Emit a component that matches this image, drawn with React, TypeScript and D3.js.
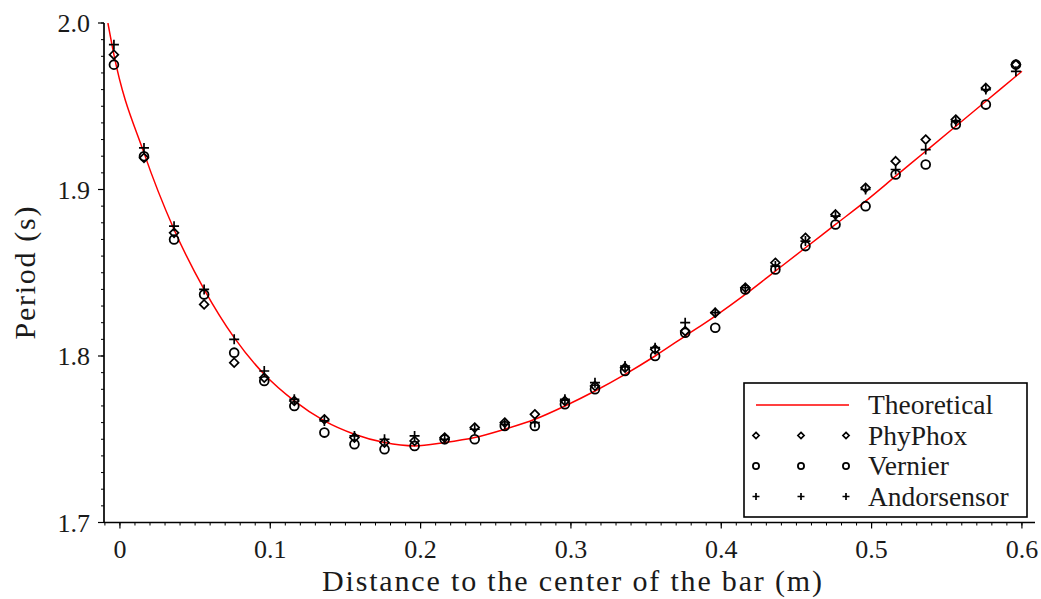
import * as React from 'react';
import * as d3 from 'd3';

// distance of the pivot to the centre of the bar (m)
const distances = [
  -0.004, 0.016, 0.036, 0.056, 0.076, 0.096, 0.116, 0.136, 0.156, 0.176, 0.196,
  0.216, 0.236, 0.256, 0.276, 0.296, 0.316, 0.336, 0.356, 0.376, 0.396,
  0.416, 0.436, 0.456, 0.476, 0.496, 0.516, 0.536, 0.556, 0.576, 0.596,
];

// measured periods (s)
const phyphox = [
  1.981, 1.919, 1.874, 1.831, 1.796, 1.787, 1.773, 1.762, 1.751, 1.748, 1.749,
  1.751, 1.757, 1.760, 1.765, 1.773, 1.782, 1.793, 1.804, 1.815, 1.826,
  1.841, 1.856, 1.871, 1.885, 1.901, 1.917, 1.930, 1.942, 1.961, 1.975,
];
const vernier = [
  1.975, 1.920, 1.870, 1.837, 1.802, 1.785, 1.770, 1.754, 1.747, 1.744, 1.746,
  1.750, 1.750, 1.758, 1.758, 1.771, 1.780, 1.791, 1.800, 1.814, 1.817,
  1.840, 1.852, 1.866, 1.879, 1.890, 1.909, 1.915, 1.939, 1.951, 1.975,
];
const andorsensor = [
  1.987, 1.925, 1.878, 1.840, 1.810, 1.791, 1.774, 1.761, 1.752, 1.750, 1.752,
  1.750, 1.756, 1.759, 1.760, 1.774, 1.784, 1.794, 1.805, 1.820, 1.826,
  1.841, 1.854, 1.869, 1.884, 1.900, 1.912, 1.924, 1.941, 1.960, 1.971,
];

// theoretical curve
const theoryX = [
  -0.008, -0.004, 0.016, 0.036, 0.056, 0.076, 0.096, 0.116, 0.136, 0.156, 0.176, 0.196,
  0.216, 0.236, 0.256, 0.276, 0.296, 0.316, 0.336, 0.356, 0.376, 0.396,
  0.416, 0.436, 0.456, 0.476, 0.496, 0.516, 0.536, 0.556, 0.576, 0.596, 0.600,
];
const theoryT = [
  2.000, 1.981, 1.922, 1.876, 1.840, 1.811, 1.789, 1.773, 1.761, 1.753, 1.748, 1.746,
  1.748, 1.751, 1.756, 1.762, 1.770, 1.779, 1.789, 1.800, 1.812, 1.824,
  1.837, 1.851, 1.865, 1.879, 1.893, 1.908, 1.923, 1.938, 1.953, 1.968, 1.971,
];

const xTicks = [0, 0.1, 0.2, 0.3, 0.4, 0.5, 0.6];
const yTicks = [1.7, 1.8, 1.9, 2.0];
const legendLabels = ['Theoretical', 'PhyPhox', 'Vernier', 'Andorsensor'];

const textStyle = { fontFamily: "'Liberation Serif'" };
const INK = '#1a1a1a';

function diamond(cx: number, cy: number, r: number) {
  return `M${cx},${cy - r}L${cx + r},${cy}L${cx},${cy + r}L${cx - r},${cy}Z`;
}
function plus(cx: number, cy: number, r: number) {
  return `M${cx - r},${cy}H${cx + r}M${cx},${cy - r}V${cy + r}`;
}

function Marker({ kind, cx, cy, s }: { kind: string; cx: number; cy: number; s: number }) {
  if (kind === 'diamond')
    return <path d={diamond(cx, cy, 4.4 * s)} fill="none" stroke="#000" strokeWidth={1.7} />;
  if (kind === 'circle')
    return <circle cx={cx} cy={cy} r={4.4 * s} fill="none" stroke="#000" strokeWidth={1.8} />;
  return <path d={plus(cx, cy, 5 * s)} fill="none" stroke="#000" strokeWidth={1.7} />;
}

export default function App() {
  const x = d3.scaleLinear().domain([-0.0106, 0.6087]).range([104, 1035]);
  const y = d3.scaleLinear().domain([1.7, 2.0]).range([522.5, 23]);

  const xMinor = d3.range(-1, 61).map((i) => i / 100);
  const yMinor = d3.range(170, 201).map((i) => i / 100);

  const line = d3
    .line<number>()
    .x((d) => x(d))
    .y((_, i) => y(theoryT[i]))
    .curve(d3.curveMonotoneX);

  const series = [
    { kind: 'diamond', values: phyphox },
    { kind: 'circle', values: vernier },
    { kind: 'plus', values: andorsensor },
  ];

  const x0 = x.range()[0];
  const yB = y.range()[0];

  return (
    <svg width={1041} height={599} style={{ position: 'absolute', left: 0, top: 0, background: '#fff' }}>
      <rect width={1041} height={599} fill="#fff" />
      <defs>
        <clipPath id="plot">
          <rect x={x0} y={y.range()[1]} width={x.range()[1] - x0} height={yB - y.range()[1]} />
        </clipPath>
      </defs>

      {/* y axis */}
      <line x1={x0} x2={x0} y1={y.range()[1]} y2={yB} stroke="#000" strokeWidth={1.7} />
      {yMinor.map((t) => (
        <line key={'ym' + t} x1={x0 - 3} x2={x0} y1={y(t)} y2={y(t)} stroke="#000" strokeWidth={1} />
      ))}
      {yTicks.map((t) => (
        <g key={'y' + t}>
          <line x1={x0 - 6} x2={x0} y1={y(t)} y2={y(t)} stroke="#000" strokeWidth={1.2} />
          <text x={90} y={y(t) + 9} textAnchor="end" fontSize={26} fill={INK} style={textStyle}>
            {d3.format('.1f')(t)}
          </text>
        </g>
      ))}

      {/* x axis */}
      <line x1={x0} x2={x.range()[1]} y1={yB} y2={yB} stroke="#000" strokeWidth={1.7} />
      {xMinor.map((t) => (
        <line key={'xm' + t} x1={x(t)} x2={x(t)} y1={yB} y2={yB + 3} stroke="#000" strokeWidth={1} />
      ))}
      {xTicks.map((t) => (
        <g key={'x' + t}>
          <line x1={x(t)} x2={x(t)} y1={yB} y2={yB + 6} stroke="#000" strokeWidth={1.2} />
          <text x={x(t)} y={yB + 35} textAnchor="middle" fontSize={26} fill={INK} style={textStyle}>
            {t === 0 ? '0' : d3.format('.1f')(t)}
          </text>
        </g>
      ))}

      <text
        x={572}
        y={591}
        textAnchor="middle"
        fontSize={30}
        fill={INK}
        style={textStyle}
        textLength={500}
        lengthAdjust="spacing"
      >
        Distance to the center of the bar (m)
      </text>
      <text
        transform={`translate(35, 273) rotate(-90)`}
        textAnchor="middle"
        fontSize={30}
        fill={INK}
        style={textStyle}
        textLength={133}
        lengthAdjust="spacing"
      >
        Period (s)
      </text>

      {/* theoretical curve */}
      <path d={line(theoryX) || ''} fill="none" stroke="#ff0000" strokeWidth={1.5} clipPath="url(#plot)" />

      {/* measurements */}
      {series.map((s) =>
        s.values.map((v, i) => (
          <Marker key={s.kind + i} kind={s.kind} cx={x(distances[i])} cy={y(v)} s={1} />
        ))
      )}

      {/* legend */}
      <g transform="translate(744, 383)">
        <rect width={283} height={134} fill="#fff" stroke="#000" strokeWidth={1.6} />
        {legendLabels.map((label, i) => {
          const cy = 22 + i * 30.5;
          return (
            <g key={label}>
              {i === 0 ? (
                <line x1={12} x2={105} y1={cy} y2={cy} stroke="#ff0000" strokeWidth={1.5} />
              ) : (
                [12, 57, 102].map((mx) => (
                  <Marker key={mx} kind={series[i - 1].kind} cx={mx} cy={cy} s={0.7} />
                ))
              )}
              <text x={124} y={cy + 9} fontSize={27.5} fill={INK} style={textStyle}>
                {label}
              </text>
            </g>
          );
        })}
      </g>
    </svg>
  );
}
